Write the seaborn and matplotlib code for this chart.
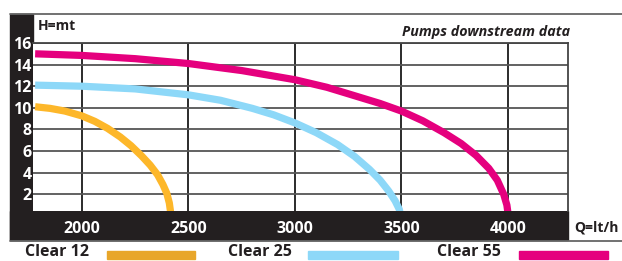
import numpy as np
import pandas as pd
import matplotlib.pyplot as plt
import seaborn as sns
from matplotlib.patches import Rectangle
from matplotlib.lines import Line2D

# values (flow lt/h, head m)
q_clear12 = [1780, 1850, 1920, 2000, 2060, 2120, 2180, 2230, 2280, 2320, 2355, 2380, 2398, 2410, 2415, 2417]
h_clear12 = [10.1, 9.95, 9.7, 9.25, 8.75, 8.1, 7.3, 6.5, 5.55, 4.7, 3.8, 2.9, 2.1, 1.2, 0.5, 0.0]

q_clear25 = [1780, 2000, 2250, 2500, 2650, 2800, 2900, 3000, 3100, 3200, 3280, 3350, 3400, 3440, 3470, 3490, 3496]
h_clear25 = [12.1, 12.0, 11.75, 11.2, 10.7, 9.95, 9.35, 8.6, 7.7, 6.6, 5.5, 4.3, 3.3, 2.3, 1.4, 0.6, 0.0]

q_clear55 = [1780, 2000, 2250, 2500, 2750, 3000, 3150, 3300, 3400, 3500, 3600, 3700, 3780,
             3850, 3910, 3950, 3980, 3995, 4002]
h_clear55 = [15.0, 14.85, 14.55, 14.1, 13.45, 12.6, 11.9, 11.0, 10.4, 9.7, 8.8, 7.7, 6.7,
             5.6, 4.4, 3.3, 2.0, 1.0, 0.0]

series = ["Clear 12", "Clear 25", "Clear 55"]
colors = {"Clear 12": "#FDB72A", "Clear 25": "#8DD8F8", "Clear 55": "#E5007E"}
swatch = {"Clear 12": "#E8A62A", "Clear 25": "#8DD8F8", "Clear 55": "#E5007E"}

x_ticks = [2000, 2500, 3000, 3500, 4000]
y_ticks = [2, 4, 6, 8, 10, 12, 14, 16]

df = pd.concat([
    pd.DataFrame({"Q": q_clear12, "H": h_clear12, "pump": "Clear 12"}),
    pd.DataFrame({"Q": q_clear25, "H": h_clear25, "pump": "Clear 25"}),
    pd.DataFrame({"Q": q_clear55, "H": h_clear55, "pump": "Clear 55"}),
])

sns.set_style("white")
plt.rcParams["font.family"] = ["Open Sans", "DejaVu Sans"]

W, H = 622, 261
fig = plt.figure(figsize=(W / 100, H / 100), dpi=100)
fx = lambda x: x / W
fy = lambda y: 1 - y / H

ax = fig.add_axes([fx(33), fy(211), fx(568) - fx(33), fy(43) - fy(211)])
sns.lineplot(data=df, x="Q", y="H", hue="pump", palette=colors, sort=False,
             estimator=None, legend=False, linewidth=5.2, ax=ax,
             solid_capstyle="butt", solid_joinstyle="round", zorder=3)

ax.set_xlim(1770, 4282)
ax.set_ylim(0.45, 16)
ax.set_xticks(x_ticks)
ax.set_yticks(y_ticks)
ax.set_xlabel("")
ax.set_ylabel("")
ax.grid(True, axis="y", color="#555555", linewidth=1.3, zorder=1)
ax.grid(True, axis="x", color="#1a1a1a", linewidth=1.3, zorder=1)
for s in ["left", "bottom"]:
    ax.spines[s].set_visible(False)
for s in ["top", "right"]:
    ax.spines[s].set_color("#444444")
    ax.spines[s].set_linewidth(1.3)
ax.tick_params(axis="both", length=0, colors="white", labelsize=11.5)
ax.tick_params(axis="x", pad=7)
ax.tick_params(axis="y", pad=1)
for lab in ax.get_xticklabels() + ax.get_yticklabels():
    lab.set_fontweight("bold")
    lab.set_color("white")

dark = "#231F20"
# black frame bands, drawn behind the axes so the white tick labels show
fig.patches.append(Rectangle((fx(10), fy(240)), fx(33) - fx(10), fy(14) - fy(240),
                             transform=fig.transFigure, color=dark, zorder=-1))
fig.patches.append(Rectangle((fx(10), fy(240)), fx(568) - fx(10), fy(211) - fy(240),
                             transform=fig.transFigure, color=dark, zorder=-1))
fig.add_artist(Line2D([fx(10), 1], [fy(14), fy(14)], color="#666666", lw=1.3))
fig.add_artist(Line2D([fx(10), 1], [fy(241), fy(241)], color="#666666", lw=1.3))

fig.text(fx(38), fy(26), "H=mt", color=dark, fontsize=10, fontweight="bold", va="center")
fig.text(fx(570), fy(32), "Pumps downstream data", color=dark, fontsize=10.3,
         fontweight="bold", style="italic", ha="right", va="center")
fig.text(fx(574), fy(228), "Q=lt/h", color=dark, fontsize=10, fontweight="bold", va="center")

# legend row
leg_text_x = [25, 228, 437]
leg_sw_x = [(107, 195), (308, 398), (519, 608)]
for name, tx, (x0, x1) in zip(series, leg_text_x, leg_sw_x):
    fig.text(fx(tx), fy(252), name, color=dark, fontsize=11.5, fontweight="bold", va="center")
    fig.patches.append(Rectangle((fx(x0), fy(259)), fx(x1) - fx(x0), fy(251) - fy(259),
                                 transform=fig.transFigure, color=swatch[name]))

fig.savefig("out.png", dpi=100)
